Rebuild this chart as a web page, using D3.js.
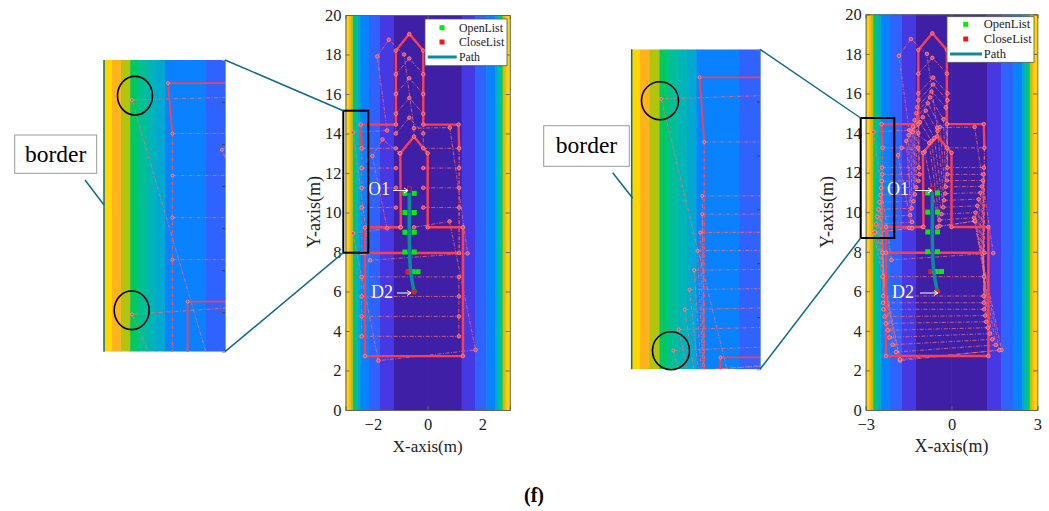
<!DOCTYPE html>
<html>
<head>
<meta charset="utf-8">
<script src="https://cdn.jsdelivr.net/npm/d3@7"></script>
<style>
html, body { margin: 0; padding: 0; background: #fff; }
svg { display: block; }
text { font-family: "Liberation Serif", serif; fill: #222; }
</style>
</head>
<body>
<svg id="chart" width="1049" height="511"></svg>
<script>
// colour bands of the cost map, half width in metres, mirrored around x = 0
var bandEdges = [0, 1.25, 1.75, 2.15, 2.47, 2.54, 2.61, 2.68, 2.745, 2.82, 2.89, 3];
var bandColors = ["#3f1fa6", "#4638e2", "#2f62ff", "#0a82ff", "#00a8d2", "#00b4b8", "#00bf98", "#00c864", "#b2c40e", "#ffb41e", "#ffd500"];

var yTicks = [0, 2, 4, 6, 8, 10, 12, 14, 16, 18, 20];
var xTicksLeft = [-2, 0, 2];
var xTicksRight = [-3, 0, 3];

// solid walls, same in both plots
var walls = [
    [[-2.41, 13.25], [-2.445, 14.45], [-1.16, 14.45], [-1.16, 18.2], [-0.67, 19.04], [-0.16, 18.2], [-0.16, 14.45], [1.13, 14.45], [1.15, 13.25]],
    [[-2.41, 7.95], [1.15, 7.95]],
    [[-2.29, 7.95], [-2.29, 9.25], [-0.98, 9.25], [-1.0, 13.0], [-0.5, 13.84], [0, 13], [0, 9.25], [1.29, 9.25], [1.29, 2.73], [-2.29, 2.73], [-2.29, 7.95]]
];
var rails = [
    [[-2.41, 13.25], [-2.41, 7.95]],
    [[1.15, 13.25], [1.15, 7.95]]
];

// thin search tree edges, same in both plots
var commonEdges = [
    [[-1.84, 17.9], [-1.42, 18.75], [-0.86, 18], [-0.5, 14.27], [0.81, 14.3], [1.46, 7.93], [-2.1, 7.58], [-2.73, 14.05], [-1.48, 14.15], [-1.84, 17.9]],
    [[-1.48, 9.2], [-2.73, 8.95], [-1.8, 2.5], [1.75, 3.04], [0.8, 9.55], [-0.5, 9.25]],
    [[-1.48, 9.2], [-1.0, 9.25]],
    [[-2.41, 13.25], [-1.16, 13.25]],
    [[-0.16, 13.25], [1.15, 13.25]],
    [[-2.41, 6.74], [1.14, 6.74]],
    [[-1.16, 17], [-0.67, 17.8], [-0.16, 17]],
    [[-1.16, 17], [-1.16, 14]],
    [[-0.16, 17], [-0.16, 13.25]],
    [[-0.5, 14.27], [-0.5, 13.84]]
];

// extra edges of the left plot
var leftEdges = [
    [[-1.48, 9.2], [-2.02, 12.86], [-1.65, 13.7], [-1.02, 13]],
    [[-2.41, 12.25], [-1.16, 12.25]], [[-0.16, 12.25], [1.15, 12.25]],
    [[-2.41, 11.25], [-1.16, 11.25]], [[-0.16, 11.25], [1.15, 11.25]],
    [[-2.41, 10.25], [-1.16, 10.25]], [[-0.16, 10.25], [1.15, 10.25]],
    [[-2.41, 5.75], [1.14, 5.75]],
    [[-2.41, 4.74], [1.14, 4.74]],
    [[-2.41, 3.73], [1.14, 3.73]],
    [[-2.41, 6.74], [-2.41, 3.73]],
    [[1.14, 6.74], [1.14, 3.73]],
    [[-1.16, 16], [-0.67, 16.8], [-0.16, 16]],
    [[-1.16, 15], [-0.67, 15.8], [-0.16, 15]],
    [[-1.16, 14], [-0.67, 14.8], [-0.16, 14]]
];

// fan of turning footprints in the right plot, one row per expansion
var fanLeftEnd = [[-2.425, 12.25], [-2.425, 11.91], [-2.44, 11.57], [-2.46, 11.23], [-2.485, 10.87], [-2.52, 10.51], [-2.555, 10.14], [-2.6, 9.77], [-2.64, 9.38], [-2.68, 8.98]];
var fanInnerLeft = [[-1.14, 12.25], [-1.12, 11.91], [-1.15, 11.58], [-1.23, 11.25], [-1.28, 10.9], [-1.33, 10.55], [-1.39, 10.2], [-1.45, 9.84], [-1.38, 9.5], [-1.38, 9.18]];
var fanInnerRight = [[-0.14, 12.25], [-0.14, 11.91], [-0.16, 11.6], [-0.2, 11.28], [-0.22, 10.94], [-0.26, 10.6], [-0.29, 10.25], [-0.35, 9.9], [-0.42, 9.6], [-0.42, 9.3]];
var fanRightEnd = [[1.13, 12.25], [1.12, 11.91], [1.1, 11.6], [1.06, 11.3], [1.01, 10.98], [0.95, 10.65], [0.9, 10.32], [0.84, 9.98], [0.79, 9.72], [0.83, 9.55]];
var fanLowLeft = [[-2.39, 5.76], [-2.39, 5.42], [-2.38, 5.09], [-2.34, 4.72], [-2.3, 4.38], [-2.23, 4.03], [-2.17, 3.67], [-2.06, 3.3], [-1.94, 2.93], [-1.8, 2.56]];
var fanLowRight = [[1.12, 5.76], [1.13, 5.42], [1.14, 5.09], [1.18, 4.77], [1.21, 4.46], [1.27, 4.16], [1.34, 3.86], [1.43, 3.57], [1.55, 3.29], [1.67, 3.02]];
var noseLeft = [[-1.16, 16], [-1.16, 15.65], [-1.2, 15.3], [-1.23, 15], [-1.29, 14.65], [-1.35, 14.32], [-1.42, 14.11], [-1.5, 13.89], [-1.58, 13.6], [-1.87, 12.88]];
var noseTip = [[-0.64, 16.8], [-0.64, 16.45], [-0.7, 16.1], [-0.75, 15.8], [-0.82, 15.5], [-0.9, 15.13], [-1.0, 14.8], [-1.1, 14.55], [-1.36, 14.05], [-1.74, 13.25]];
var noseRight = [[-0.14, 16], [-0.14, 15.65], [-0.2, 15.3], [-0.28, 14.7], [-0.4, 14.3], [-0.49, 14.1], [-0.6, 13.75], [-0.7, 13.6], [-0.78, 13.5], [-0.94, 13.05]];

var openX = [-0.83, -0.49, -0.83, -0.49, -0.83, -0.49, -0.83, -0.49, -0.68, -0.53, -0.35];
var openY = [10.97, 10.97, 10, 10, 9, 9, 8, 8, 7, 7, 7];
var closeX = [-0.74, -0.5];
var closeY = [7, 6];
var pathX = [-0.67, -0.67, -0.66, -0.62, -0.5];
var pathY = [11, 9, 8, 7, 6.05];

var RED = "#ff3d4f";
var svg = d3.select("#chart");
var defs = svg.append("defs");
var lineOf = function (x, y) {
    return d3.line().x(function (d) { return x(d[0]); }).y(function (d) { return y(d[1]); });
};

var rightEdges = [];
fanLeftEnd.forEach(function (p, i) {
    rightEdges.push([p, fanInnerLeft[i]]);
    rightEdges.push([fanInnerRight[i], fanRightEnd[i]]);
    rightEdges.push([p, fanLowLeft[i]]);
    rightEdges.push([fanRightEnd[i], fanLowRight[i]]);
    rightEdges.push([fanLowLeft[i], fanLowRight[i]]);
    rightEdges.push([noseLeft[i], noseTip[i], noseRight[i]]);
    rightEdges.push([noseLeft[i], fanInnerLeft[i]]);
    rightEdges.push([noseRight[i], fanInnerRight[i]]);
});

function drawBands(g, x, y) {
    var yd = y.domain();
    bandColors.forEach(function (c, i) {
        [1, -1].forEach(function (s) {
            var a = x(s * bandEdges[i]), b = x(s * bandEdges[i + 1]);
            g.append("rect")
                .attr("x", Math.min(a, b) - 0.3)
                .attr("y", y(yd[1]))
                .attr("width", Math.abs(b - a) + 0.6)
                .attr("height", y(yd[0]) - y(yd[1]))
                .attr("fill", c);
        });
    });
}

function drawNetwork(g, x, y, edges, r, wallWidth) {
    var line = lineOf(x, y);
    g.selectAll(null).data(edges).enter().append("path")
        .attr("d", line)
        .attr("fill", "none")
        .attr("stroke", "#ff6f70")
        .attr("stroke-width", 0.9)
        .attr("stroke-opacity", 0.8)
        .attr("stroke-dasharray", "4 1.5 1 1.5");
    g.selectAll(null).data(rails).enter().append("path")
        .attr("d", line)
        .attr("fill", "none")
        .attr("stroke", "#ff4a58")
        .attr("stroke-width", 1.4)
        .attr("stroke-dasharray", "4 1.5 1 1.5");
    g.selectAll(null).data(walls).enter().append("path")
        .attr("d", line)
        .attr("fill", "none")
        .attr("stroke", RED)
        .attr("stroke-width", wallWidth);
    // a node shared by several edges is drawn once
    var nodes = new Map();
    edges.concat(walls).forEach(function (e) {
        e.forEach(function (n) { nodes.set(n.join(), n); });
    });
    g.selectAll(null).data(Array.from(nodes.values())).enter().append("circle")
        .attr("cx", function (d) { return x(d[0]); })
        .attr("cy", function (d) { return y(d[1]); })
        .attr("r", r)
        .attr("fill", RED)
        .attr("stroke", "#ffb0b0")
        .attr("stroke-width", 0.6);
}

function drawPanel(p) {
    var x = d3.scaleLinear().domain([-3, 3]).range([p.left, p.right]);
    var y = d3.scaleLinear().domain([0, 20]).range([p.bottom, p.top]);
    var g = svg.append("g");

    drawBands(g, x, y);
    drawNetwork(g, x, y, p.edges, 1.8, 2.4);

    // open list, close list and path
    g.selectAll(null).data(d3.range(openX.length)).enter().append("rect")
        .attr("x", function (i) { return x(openX[i]) - 2.5; })
        .attr("y", function (i) { return y(openY[i]) - 2.5; })
        .attr("width", 5).attr("height", 5)
        .attr("fill", "#00f000");
    g.selectAll(null).data(d3.range(closeX.length)).enter().append("rect")
        .attr("x", function (i) { return x(closeX[i]) - 2; })
        .attr("y", function (i) { return y(closeY[i]) - 2.5; })
        .attr("width", 4).attr("height", 5)
        .attr("fill", "#f01818");
    g.append("rect")
        .attr("x", x(-0.67) - 2).attr("y", y(11.2) - 2)
        .attr("width", 4).attr("height", 4)
        .attr("fill", "none").attr("stroke", "#e02030").attr("stroke-width", 0.8);
    g.append("path")
        .datum(pathX.map(function (v, i) { return [v, pathY[i]]; }))
        .attr("d", lineOf(x, y).curve(d3.curveMonotoneY))
        .attr("fill", "none").attr("stroke", "#0a8c9e").attr("stroke-width", 3.5);
    g.append("circle")
        .attr("cx", x(-0.5)).attr("cy", y(6)).attr("r", 2.6)
        .attr("fill", "#f01818").attr("stroke", "#0a8c5e").attr("stroke-width", 0.9);

    // axes, ticks point inward
    var axes = svg.append("g");
    var ax = [
        { a: d3.axisBottom(x).tickValues(p.xTicks).tickSize(-4).tickPadding(8).tickFormat(d3.format("d")), t: "translate(0," + p.bottom + ")" },
        { a: d3.axisTop(x).tickValues(p.xTicks).tickSize(-4).tickFormat(""), t: "translate(0," + p.top + ")" },
        { a: d3.axisLeft(y).tickValues(yTicks).tickSize(-4).tickPadding(4), t: "translate(" + p.left + ",0)" },
        { a: d3.axisRight(y).tickValues(yTicks).tickSize(-4).tickFormat(""), t: "translate(" + p.right + ",0)" }
    ];
    ax.forEach(function (d) {
        var n = axes.append("g").attr("transform", d.t).call(d.a);
        n.selectAll("path, line").attr("stroke", "#666");
        n.selectAll("text").attr("font-size", 16.5).attr("font-family", "Liberation Serif").attr("fill", "#222");
    });

    svg.append("text").attr("x", (p.left + p.right) / 2).attr("y", 452)
        .attr("text-anchor", "middle").attr("font-size", p.labelSize).text("X-axis(m)");
    svg.append("text").attr("transform", "translate(" + p.yLabelX + ",212) rotate(-90)")
        .attr("text-anchor", "middle").attr("font-size", 18).text("Y-axis(m)");

    // white notes
    p.notes.forEach(function (n) {
        svg.append("text").attr("x", n.tx).attr("y", n.ty)
            .attr("font-size", 18).style("fill", "#fff").text(n.label);
        svg.append("path")
            .attr("d", "M" + n.x0 + "," + n.ay + "H" + n.x1 + "M" + (n.x1 - 4) + "," + (n.ay - 2.5) + "L" + n.x1 + "," + n.ay + "L" + (n.x1 - 4) + "," + (n.ay + 2.5))
            .attr("fill", "none").attr("stroke", "#fff").attr("stroke-width", 1);
    });

    // legend
    var l = p.legend;
    svg.append("rect").attr("x", l.x).attr("y", l.y).attr("width", l.w).attr("height", l.h)
        .attr("fill", "#fff").attr("stroke", "#555").attr("stroke-width", 0.8);
    svg.append("rect").attr("x", l.mx - 2.5).attr("y", l.r1 - 2.5).attr("width", 5).attr("height", 5).attr("fill", "#00f000");
    svg.append("rect").attr("x", l.mx - 2.5).attr("y", l.r2 - 2.5).attr("width", 5).attr("height", 5).attr("fill", "#f01818");
    svg.append("line").attr("x1", l.lx0).attr("x2", l.lx1).attr("y1", l.r3).attr("y2", l.r3)
        .attr("stroke", "#0a8c9e").attr("stroke-width", 3);
    [["OpenList", l.r1], ["CloseList", l.r2], ["Path", l.r3]].forEach(function (d) {
        svg.append("text").attr("x", l.tx).attr("y", d[1] + 4).attr("font-size", l.size).text(d[0]);
    });

    // magnified inset
    var s = p.inset;
    var ix = d3.scaleLinear().domain([-2.95, -1.995]).range([s.x0, s.x1]);
    var iy = d3.scaleLinear().domain(s.yDomain).range([s.y1, s.y0]);
    defs.append("clipPath").attr("id", s.id).append("rect")
        .attr("x", s.x0).attr("y", s.y0).attr("width", s.x1 - s.x0).attr("height", s.y1 - s.y0);
    var ig = svg.append("g").attr("clip-path", "url(#" + s.id + ")");
    drawBands(ig, ix, iy);
    drawNetwork(ig.append("g"), ix, iy, p.edges, 1.5, 1.8);
    var iAxis = svg.append("g").attr("transform", "translate(" + s.x1 + ",0)")
        .call(d3.axisRight(iy).tickValues(s.ticks).tickSize(-3).tickFormat(""));
    iAxis.selectAll("line").attr("stroke", "#444");
    iAxis.select("path").attr("stroke", "#7a9ad8");
    svg.append("line").attr("x1", s.x0).attr("x2", s.x0).attr("y1", s.y0).attr("y2", s.y1)
        .attr("stroke", "#0f6a8a").attr("stroke-width", 1.5);

    s.circles.forEach(function (c) {
        svg.append("ellipse").attr("cx", c[0]).attr("cy", c[1]).attr("rx", c[2]).attr("ry", c[3])
            .attr("fill", "none").attr("stroke", "#000").attr("stroke-width", 1.6);
    });

    // zoom box and its connectors
    var b = p.box;
    svg.append("rect").attr("x", b.x).attr("y", b.y).attr("width", b.w).attr("height", b.h)
        .attr("fill", "none").attr("stroke", "#000").attr("stroke-width", 2);
    [[s.x1, s.y0, b.x, b.y], [s.x1, s.y1, b.x, b.y + b.h], b.tag.line].forEach(function (c) {
        svg.append("line").attr("x1", c[0]).attr("y1", c[1]).attr("x2", c[2]).attr("y2", c[3])
            .attr("stroke", "#0f6a8a").attr("stroke-width", 1.5);
    });
    svg.append("rect").attr("x", b.tag.x).attr("y", b.tag.y).attr("width", b.tag.w).attr("height", b.tag.h)
        .attr("fill", "#fff").attr("stroke", "#999").attr("stroke-width", 1);
    svg.append("text").attr("x", b.tag.x + b.tag.w / 2).attr("y", b.tag.base)
        .attr("text-anchor", "middle").attr("font-size", 23.5).style("fill", "#000").text("border");
}

drawPanel({
    left: 345.5, right: 509.8, top: 15, bottom: 410,
    xTicks: xTicksLeft, labelSize: 17, yLabelX: 319.5,
    edges: commonEdges.concat(leftEdges),
    notes: [
        { label: "O1", tx: 368, ty: 195, x0: 393, x1: 408, ay: 190.5 },
        { label: "D2", tx: 371, ty: 298, x0: 397, x1: 411, ay: 293 }
    ],
    legend: { x: 425, y: 19, w: 82, h: 46.7, mx: 442, r1: 27.7, r2: 42, r3: 57, lx0: 427.7, lx1: 456.7, tx: 459, size: 11.8 },
    inset: {
        id: "clipLeft", x0: 104, x1: 225, y0: 60, y1: 351.7, yDomain: [8.06, 15],
        ticks: [9, 10, 11, 12, 13, 14],
        circles: [[135, 95.7, 17.5, 19.3], [131.7, 310.3, 17.5, 19.3]]
    },
    box: {
        x: 343.3, y: 110.7, w: 25, h: 142,
        tag: { x: 14.7, y: 135, w: 82, h: 38.3, base: 161.7, line: [85, 180, 104, 205] }
    }
});

drawPanel({
    left: 865.7, right: 1037.3, top: 14.3, bottom: 410,
    xTicks: xTicksRight, labelSize: 18, yLabelX: 833,
    edges: commonEdges.concat(rightEdges),
    notes: [
        { label: "O1", tx: 887, ty: 195, x0: 915, x1: 932, ay: 190.5 },
        { label: "D2", tx: 892, ty: 298, x0: 920, x1: 938, ay: 293 }
    ],
    legend: { x: 947, y: 16.7, w: 87, h: 45.6, mx: 965.7, r1: 24.3, r2: 39, r3: 54, lx0: 950, lx1: 982, tx: 983.7, size: 12.5 },
    inset: {
        id: "clipRight", x0: 631.7, x1: 760, y0: 49.3, y1: 369.3, yDomain: [9.03, 14.97],
        ticks: [10, 11, 12, 13, 14],
        circles: [[660, 100.7, 18.5, 19], [671, 350.7, 18.5, 19]]
    },
    box: {
        x: 860.7, y: 118, w: 33.6, h: 120,
        tag: { x: 543.7, y: 125.7, w: 85.6, h: 40.6, base: 153.3, line: [612.7, 172.7, 632.7, 198.3] }
    }
});

svg.append("text").attr("x", 534).attr("y", 502).attr("text-anchor", "middle")
    .attr("font-size", 20).attr("font-weight", "bold").style("fill", "#000").text("(f)");
</script>
</body>
</html>
